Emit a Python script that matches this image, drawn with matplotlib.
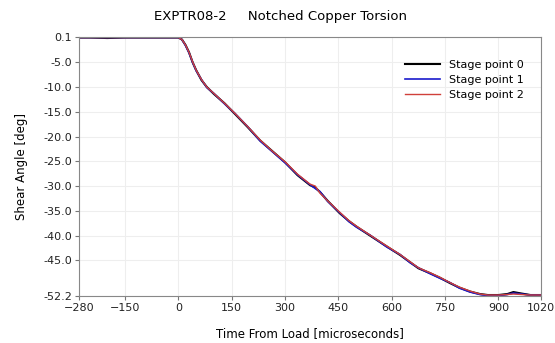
import numpy as np
from matplotlib import pyplot as plt

# Daten
t = [-280, -250, -200, -150, -100, -50, -20, 0, 10, 20, 30, 40, 50, 65, 80, 100,
     130, 160, 195, 230, 265, 300, 335, 370, 385, 398, 420, 454, 480, 501, 539,
     586, 623, 652, 675, 708, 735, 764, 790, 820, 848, 870, 900, 925, 942, 965,
     990, 1020]
sp0 = [0.0, 0.0, -0.1, 0.0, 0.0, 0.0, 0.0, 0.0, -0.4, -1.5, -3.0, -5.0, -6.6, -8.6, -10.0, -11.4,
       -13.3, -15.5, -18.1, -20.8, -23.0, -25.2, -27.8, -29.8, -30.3, -31.2, -33.0, -35.5, -37.1, -38.2, -40.0,
       -42.2, -43.9, -45.4, -46.6, -47.6, -48.5, -49.6, -50.5, -51.3, -51.8, -52.0, -52.0, -51.8, -51.4, -51.7,
       -52.0, -52.0]
sp1 = [0.0, 0.0, 0.0, 0.0, 0.0, 0.0, 0.0, 0.0, -0.4, -1.6, -3.1, -5.0, -6.7, -8.5, -10.1, -11.3,
       -13.4, -15.4, -18.0, -20.9, -23.1, -25.3, -27.7, -29.7, -30.5, -31.1, -33.1, -35.4, -37.2, -38.3, -39.9,
       -42.3, -43.8, -45.5, -46.5, -47.7, -48.6, -49.5, -50.6, -51.4, -51.9, -52.1, -52.1, -51.9, -51.6, -51.8,
       -52.0, -52.0]
sp2 = [0.0, 0.0, 0.0, 0.0, 0.0, 0.0, 0.0, 0.0, -0.4, -1.5, -3.0, -4.9, -6.6, -8.5, -10.0, -11.3,
       -13.3, -15.4, -18.0, -20.7, -23.0, -25.1, -27.6, -29.6, -30.0, -31.4, -33.0, -35.3, -37.0, -38.1, -39.9,
       -42.1, -43.8, -45.3, -46.5, -47.5, -48.4, -49.5, -50.4, -51.2, -51.8, -52.0, -52.0, -51.9, -51.8, -51.9,
       -52.0, -52.0]
labels = ["Stage point 0", "Stage point 1", "Stage point 2"]
x_ticks = [-280, -150, 0, 150, 300, 450, 600, 750, 900, 1020]
y_ticks = [0.1, -5.0, -10.0, -15.0, -20.0, -25.0, -30.0, -35.0, -40.0, -45.0, -52.2]

fig = plt.figure(figsize=(5.55, 3.43), dpi=100)
ax = fig.add_axes([0.142, 0.137, 0.833, 0.755])

ax.plot(t, sp0, color='black', lw=1.5, label=labels[0])
ax.plot(t, sp1, color='#1a1acc', lw=1.2, label=labels[1])
ax.plot(t, sp2, color='#d0403a', lw=1.0, label=labels[2])

ax.set_xlim(-280, 1020)
ax.set_ylim(-52.2, 0.1)
ax.set_xticks(x_ticks)
ax.set_yticks(y_ticks)
ax.set_yticklabels([f"{v:.1f}" for v in y_ticks])
ax.tick_params(labelsize=8, length=3, color='#777777', pad=2, labelcolor='#222222')
ax.grid(True, color='#eeeeee', lw=0.8)
for s in ax.spines.values():
    s.set_color('#888888')

ax.set_xlabel("Time From Load [microseconds]", fontsize=8.5, labelpad=10)
ax.set_ylabel("Shear Angle [deg]", fontsize=8.5, labelpad=11)
fig.text(0.505, 0.952, "EXPTR08-2     Notched Copper Torsion", ha='center', va='center', fontsize=9.5)

ax.legend(loc='upper right', frameon=False, fontsize=8, handlelength=3.2,
          labelspacing=0.45, bbox_to_anchor=(0.985, 0.95))

fig.savefig("out.png", dpi=100)
